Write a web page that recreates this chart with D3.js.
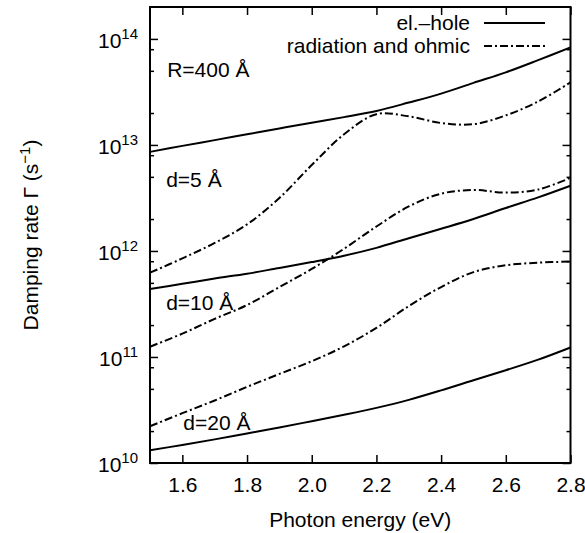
<!DOCTYPE html>
<html>
<head>
<meta charset="utf-8">
<title>Damping rate vs photon energy</title>
<style>
	body { margin: 0; background: #fff; }
	.axis .domain { display: none; }
	.axis line { stroke: #000; stroke-width: 1.5; }
	text { font-family: "Liberation Sans", Arial, Helvetica, sans-serif; fill: #000; }
</style>
<script src="https://cdnjs.cloudflare.com/ajax/libs/d3/7.8.5/d3.min.js"></script>
</head>
<body>
<svg width="585" height="533"></svg>
<script>

// photon energy (eV)
var energy = [1.5, 1.6, 1.7, 1.8, 1.9, 2.0, 2.1, 2.2, 2.3, 2.4, 2.5, 2.6, 2.7, 2.8];

// el.-hole damping (solid lines), s^-1
var ehTop = [8.6e12, 9.8e12, 1.11e13, 1.26e13, 1.43e13, 1.62e13, 1.83e13, 2.09e13, 2.51e13, 3.05e13, 3.85e13, 4.84e13, 6.31e13, 8.32e13];
var ehMid = [4.38e11, 4.90e11, 5.50e11, 6.10e11, 6.92e11, 7.85e11, 9.02e11, 1.07e12, 1.32e12, 1.62e12, 2.00e12, 2.54e12, 3.20e12, 4.12e12];
var ehLow = [1.32e10, 1.48e10, 1.67e10, 1.90e10, 2.16e10, 2.48e10, 2.85e10, 3.31e10, 3.94e10, 4.84e10, 6.03e10, 7.50e10, 9.44e10, 1.23e11];

// radiation and ohmic damping (dash-dot lines)
var radD5  = [6.24e11, 8.51e11, 1.19e12, 1.78e12, 3.16e12, 6.46e12, 1.26e13, 1.95e13, 1.86e13, 1.61e13, 1.57e13, 1.90e13, 2.57e13, 3.89e13];
var radD10 = [1.25e11, 1.66e11, 2.29e11, 3.09e11, 4.57e11, 6.76e11, 1.05e12, 1.70e12, 2.63e12, 3.47e12, 3.76e12, 3.55e12, 3.80e12, 4.90e12];
var radD20 = [2.22e10, 2.95e10, 3.89e10, 5.22e10, 6.92e10, 9.12e10, 1.26e11, 1.88e11, 3.02e11, 4.57e11, 6.31e11, 7.33e11, 7.76e11, 7.94e11];

var xTicks = [1.6, 1.8, 2.0, 2.2, 2.4, 2.6, 2.8];
var yMajor = [1e10, 1e11, 1e12, 1e13, 1e14];
var yMinorMult = [2, 5, 8];

var labels = [
	{text: "R=400 Å", x: 1.553, y: 4.4e13},
	{text: "d=5 Å", x: 1.550, y: 4.0e12},
	{text: "d=10 Å", x: 1.550, y: 2.8e11},
	{text: "d=20 Å", x: 1.603, y: 2.05e10}
];

function draw() {
	var svg = d3.select("svg"),
	    margin = {top: 7, right: 14.5, bottom: 70, left: 150},
	    width = +svg.attr("width") - margin.left - margin.right,
	    height = +svg.attr("height") - margin.top - margin.bottom,
	    g = svg.append("g").attr("transform", "translate(" + margin.left + "," + margin.top + ")");

	var x = d3.scaleLinear().domain([1.5, 2.8]).range([0, width]);
	var y = d3.scaleLog().domain([1e10, 2e14]).range([height, 0]);

	var yMinor = [];
	yMajor.forEach(function(d) {
		yMinorMult.forEach(function(m) {
			if (d * m < 2e14) yMinor.push(d * m);
		});
	});

	// ticks on all four sides, pointing in
	g.append("g").attr("class", "axis")
	    .attr("transform", "translate(0," + height + ")")
	    .call(d3.axisBottom(x).tickValues(xTicks).tickSizeInner(-8).tickSizeOuter(0).tickPadding(14)
	          .tickFormat(d3.format(".1f")))
	    .selectAll("text").attr("font-size", 21).attr("font-family", null);

	g.append("g").attr("class", "axis")
	    .call(d3.axisTop(x).tickValues(xTicks).tickSizeInner(-8).tickSizeOuter(0).tickFormat(""));

	g.append("g").attr("class", "axis")
	    .call(d3.axisLeft(y).tickValues(yMajor).tickSizeInner(-8).tickSizeOuter(0).tickFormat(""));
	g.append("g").attr("class", "axis")
	    .call(d3.axisLeft(y).tickValues(yMinor).tickSizeInner(-4).tickSizeOuter(0).tickFormat(""));
	g.append("g").attr("class", "axis")
	    .attr("transform", "translate(" + width + ",0)")
	    .call(d3.axisRight(y).tickValues(yMajor).tickSizeInner(-8).tickSizeOuter(0).tickFormat(""));
	g.append("g").attr("class", "axis")
	    .attr("transform", "translate(" + width + ",0)")
	    .call(d3.axisRight(y).tickValues(yMinor).tickSizeInner(-4).tickSizeOuter(0).tickFormat(""));

	// y tick labels 10^n
	var ylab = g.append("g").selectAll("text")
	    .data(yMajor)
	    .enter().append("text")
	      .attr("x", -12)
	      .attr("y", function(d) { return y(d) + 9; })
	      .attr("text-anchor", "end")
	      .attr("font-size", 21);
	ylab.append("tspan").text("10");
	ylab.append("tspan")
	    .attr("dy", -9)
	    .attr("font-size", 15)
	    .text(function(d) { return Math.round(Math.log10(d)); });

	// frame
	g.append("rect")
	    .attr("width", width)
	    .attr("height", height)
	    .attr("fill", "none")
	    .attr("stroke", "#000")
	    .attr("stroke-width", 2);

	var line = d3.line()
	    .x(function(d) { return x(d[0]); })
	    .y(function(d) { return y(d[1]); })
	    .curve(d3.curveCatmullRom.alpha(0.5));

	var solid = [ehTop, ehMid, ehLow];
	var dashed = [radD5, radD10, radD20];

	g.append("g").selectAll("path")
	    .data(solid)
	    .enter().append("path")
	      .attr("d", function(s) { return line(energy.map(function(e, i) { return [e, s[i]]; })); })
	      .attr("fill", "none")
	      .attr("stroke", "#000")
	      .attr("stroke-width", 2);

	g.append("g").selectAll("path")
	    .data(dashed)
	    .enter().append("path")
	      .attr("d", function(s) { return line(energy.map(function(e, i) { return [e, s[i]]; })); })
	      .attr("fill", "none")
	      .attr("stroke", "#000")
	      .attr("stroke-width", 2)
	      .attr("stroke-dasharray", "8,3,2,3");

	// curve labels
	g.append("g").selectAll("text")
	    .data(labels)
	    .enter().append("text")
	      .attr("x", function(d) { return x(d.x); })
	      .attr("y", function(d) { return y(d.y); })
	      .attr("font-size", 21)
	      .text(function(d) { return d.text; });

	// legend
	var legend = g.append("g").attr("font-size", 21).attr("text-anchor", "end");
	var items = [{name: "el.\u2013hole", dash: null}, {name: "radiation and ohmic", dash: "8,3,2,3"}];
	var li = legend.selectAll("g")
	    .data(items)
	    .enter().append("g")
	      .attr("transform", function(d, i) { return "translate(0," + (16 + i * 23) + ")"; });
	li.append("text")
	    .attr("x", 320)
	    .attr("y", 7)
	    .text(function(d) { return d.name; });
	li.append("line")
	    .attr("x1", 334).attr("x2", 395)
	    .attr("stroke", "#000")
	    .attr("stroke-width", 2)
	    .attr("stroke-dasharray", function(d) { return d.dash; });

	// axis titles
	svg.append("text")
	    .attr("x", margin.left + width / 2)
	    .attr("y", 527)
	    .attr("text-anchor", "middle")
	    .attr("font-size", 21)
	    .text("Photon energy (eV)");

	var yt = svg.append("text")
	    .attr("transform", "translate(38," + (margin.top + height / 2) + ") rotate(-90)")
	    .attr("text-anchor", "middle")
	    .attr("font-size", 21);
	yt.append("tspan").text("Damping rate \u0393 (s");
	yt.append("tspan").attr("dy", -8).attr("font-size", 15).text("\u22121");
	yt.append("tspan").attr("dy", 8).text(")");
}

draw();
</script>
</body>
</html>
